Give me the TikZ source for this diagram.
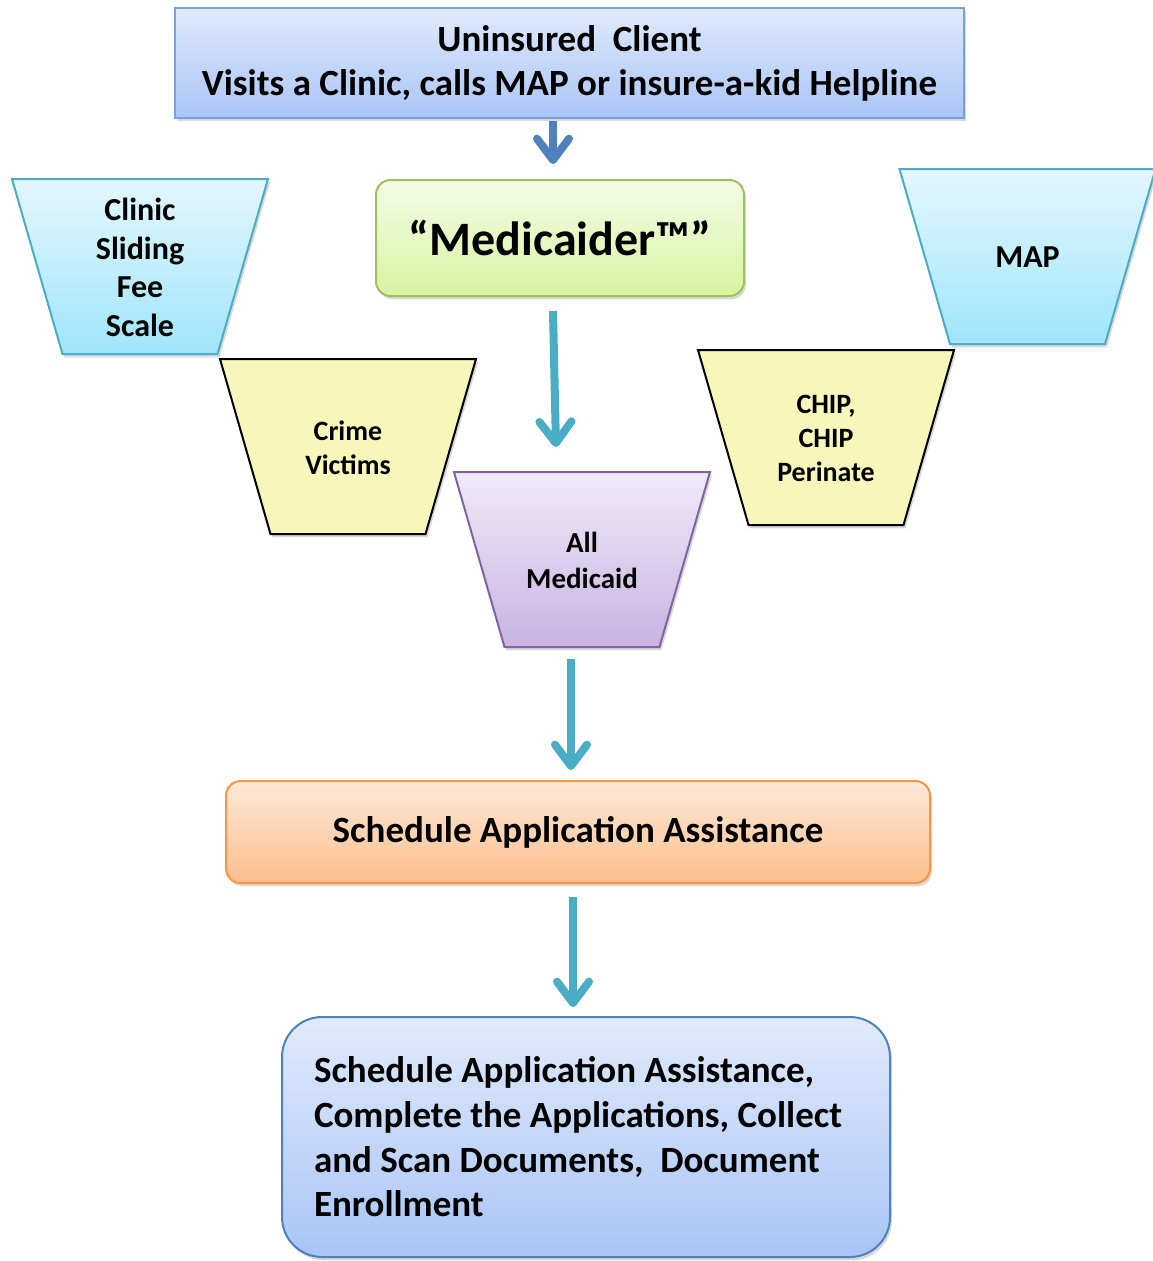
\documentclass[tikz,border=0pt]{standalone}
\usepackage{fontspec}
\setmainfont{Carlito}
\usetikzlibrary{shadows,arrows.meta,calc}
\definecolor{topA}{HTML}{E0EAFC}
\definecolor{topB}{HTML}{A9C5F6}
\definecolor{topL}{HTML}{7BA0D8}
\definecolor{medA}{HTML}{F4FCE6}
\definecolor{medB}{HTML}{D7F4A0}
\definecolor{medL}{HTML}{9DC15E}
\definecolor{cyA}{HTML}{E4F7FD}
\definecolor{cyB}{HTML}{9FE5FB}
\definecolor{cyL}{HTML}{4BACC6}
\definecolor{yel}{HTML}{F7F7BB}
\definecolor{puA}{HTML}{F0EAF8}
\definecolor{puB}{HTML}{C8B3E3}
\definecolor{puL}{HTML}{8064A2}
\definecolor{orA}{HTML}{FDE9D9}
\definecolor{orB}{HTML}{FBBF8C}
\definecolor{orL}{HTML}{F79646}
\definecolor{blL}{HTML}{4F81BD}
\definecolor{arrA}{HTML}{4F81BD}
\definecolor{arrB}{HTML}{4BACC6}
\def\pxu{0.75pt}
% style, font style, centre x, top y, name, text
\newcommand\mytrap[6]{%
  \path[#1] (#3-128,#4) -- (#3+128,#4) -- (#3+77.5,#4+175) -- (#3-77.5,#4+175) -- cycle;
  \node[#2,align=center,inner sep=0pt] (#5) at (#3,#4+88.5) {#6};
  \coordinate (#5-top) at (#3,#4);
  \coordinate (#5-bot) at (#3,#4+175);}
\begin{document}
\begin{tikzpicture}[x=0.75pt,y=-0.75pt,
  shad/.style={drop shadow={opacity=0.3,shadow xshift=1.5pt,shadow yshift=-2.5pt}},
  boxbase/.style={shad,line width=1.5pt,inner sep=0pt,align=center},
  trap/.style={shad,line width=1.5pt,line join=miter},
  cyantrap/.style={trap,draw=cyL,top color=cyA,bottom color=cyB},
  yeltrap/.style={trap,draw=black,fill=yel},
  purtrap/.style={trap,draw=puL,top color=puA,bottom color=puB},
  arr/.style={line width=6pt,draw=arrB,-{Straight Barb[length=16pt,width=24pt,round]}},
  fbig/.style={font=\bfseries\fontsize{27.75pt}{33pt}\selectfont},
  fmid/.style={font=\bfseries\fontsize{24pt}{29pt}\selectfont},
  fsmall/.style={font=\bfseries\fontsize{21pt}{25.5pt}\selectfont},
  fpur/.style={font=\bfseries\fontsize{21.75pt}{27pt}\selectfont},
]
\useasboundingbox (0,0) rectangle (1153,1261);

\node[boxbase,fbig,draw=topL,top color=topA,bottom color=topB,
  minimum width=789*\pxu,minimum height=110*\pxu] (top) at (569.5,63)
  {\raisebox{-1.5pt}{Uninsured~ Client}\\\raisebox{-1.5pt}{Visits a Clinic, calls MAP or insure-a-kid Helpline}};

\node[boxbase,draw=medL,top color=medA,bottom color=medB,rounded corners=11pt,
  font=\bfseries\fontsize{36pt}{43pt}\selectfont,
  minimum width=368*\pxu,minimum height=116*\pxu] (med) at (560,238) {“Medicaider™”};

\mytrap{cyantrap}{fmid}{140}{179}{clinic}{Clinic\\Sliding\\Fee\\Scale}
\mytrap{cyantrap}{fmid}{1027.5}{169}{map}{MAP}
\mytrap{yeltrap}{fsmall}{348}{359}{crime}{Crime\\Victims}
\mytrap{yeltrap}{fsmall}{826}{350}{chip}{CHIP,\\CHIP\\Perinate}
\mytrap{purtrap}{fpur}{582}{472}{allmed}{All\\Medicaid}

\node[boxbase,fbig,draw=orL,top color=orA,bottom color=orB,rounded corners=11pt,
  minimum width=704*\pxu,minimum height=102*\pxu] (sched) at (578,832)
  {\raisebox{-1.5pt}{Schedule Application Assistance}};

\node[boxbase,fbig,draw=blL,top color=topA,bottom color=topB,rounded corners=30pt,
  minimum width=608*\pxu,minimum height=240*\pxu,text width=544*\pxu,align=flush left,
  font=\bfseries\fontsize{27.75pt}{33.5pt}\selectfont] (final) at (586,1137)
  {Schedule Application Assistance,\\Complete the Applications, Collect\\and Scan Documents,~ Document\\Enrollment};

\draw[arr,draw=arrA] ($(top.south)+(-16.5,2)$) -- ($(med.north)+(-7,-15)$);
\draw[arr] ($(med.south)+(-7,14)$) -- ($(allmed-top)+(-26,-25)$);
\draw[arr] ($(allmed-bot)+(-11,12)$) -- ($(sched.north)+(-7,-10)$);
\draw[arr] ($(sched.south)+(-5,13)$) -- ($(final.north)+(-13,-9)$);
\end{tikzpicture}
\end{document}
